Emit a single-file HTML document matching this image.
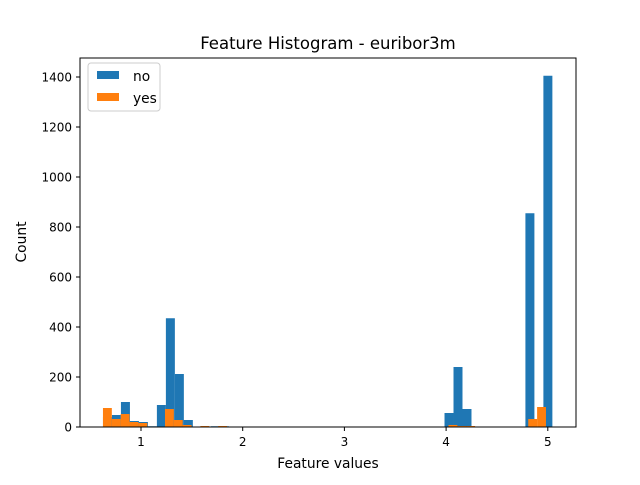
<!DOCTYPE html>
<html><head><meta charset="utf-8"><style>
body{margin:0;background:#fff;}
svg text{font-family:"DejaVu Sans","Liberation Sans",sans-serif;fill:#000;}
</style></head><body>
<svg id="chart" width="640" height="480">
<rect width="640" height="480" fill="#fff"/>
<text x="328" y="49" font-size="16.5" text-anchor="middle">Feature Histogram - euribor3m</text>
<text x="328" y="468" font-size="13.8" text-anchor="middle">Feature values</text>
<text x="26" y="242" font-size="13.8" text-anchor="middle" transform="rotate(-90 26 242)">Count</text>
<g id="bars"></g>
<rect x="80" y="58" width="496" height="369" fill="none" stroke="#000" stroke-width="1"/>
<g id="axes"></g>
<g>
<rect x="88" y="63" width="72" height="48" rx="3" fill="#fff" fill-opacity="0.8" stroke="#ccc"/>
<rect x="97" y="71" width="22" height="8" fill="#1f77b4"/>
<text x="133" y="81" font-size="13.8">no</text>
<rect x="97" y="93" width="22" height="8" fill="#ff7f0e"/>
<text x="133" y="103" font-size="13.8">yes</text>
</g>
</svg>
<script>
const noMin = 0.626, noMax = 5.045;
const yesMin = 0.626, yesMax = 4.982;
const noCounts = [40,48,100,24,20,3,88,435,212,28,0,0,3,3,0,0,0,0,0,0,0,0,0,0,0,0,0,0,0,0,0,0,0,0,0,0,0,0,56,240,72,0,0,0,0,0,0,855,0,1405];
const yesCounts = [76,32,52,20,16,0,0,72,28,8,0,4,0,4,0,0,0,0,0,0,0,0,0,0,0,0,0,0,0,0,0,0,0,0,0,0,0,0,0,8,4,4,0,0,0,0,0,0,32,80];
const xTicks = [1,2,3,4,5];
const yTicks = [0,200,400,600,800,1000,1200,1400];
const NS="http://www.w3.org/2000/svg";
const xs = v => 141 + (v-1)*101.7;
const ys = v => 427 - v*0.25;
const bars = document.getElementById('bars');
function drawHist(counts, mn, mx, color, name){
  const w = (mx-mn)/counts.length;
  counts.forEach((c,i)=>{
    if(c<=0) return;
    const r = document.createElementNS(NS,'rect');
    const x0 = xs(mn+i*w), x1 = xs(mn+(i+1)*w);
    r.setAttribute('x',x0); r.setAttribute('width',x1-x0);
    r.setAttribute('y',ys(c)); r.setAttribute('height',427-ys(c));
    r.setAttribute('fill',color);
    
    
    bars.appendChild(r);
  });
}
drawHist(noCounts,noMin,noMax,'#1f77b4','no');
drawHist(yesCounts,yesMin,yesMax,'#ff7f0e','yes');
const axes = document.getElementById('axes');
xTicks.forEach(t=>{
  const l=document.createElementNS(NS,'line');
  l.setAttribute('x1',xs(t));l.setAttribute('x2',xs(t));l.setAttribute('y1',427);l.setAttribute('y2',431);l.setAttribute('stroke','#000');
  
  
  axes.appendChild(l);
  const tx=document.createElementNS(NS,'text');
  tx.setAttribute('x',xs(t));tx.setAttribute('y',446);tx.setAttribute('font-size','12');tx.setAttribute('text-anchor','middle');
  tx.textContent=t;
  
  
  axes.appendChild(tx);
});
yTicks.forEach(t=>{
  const l=document.createElementNS(NS,'line');
  l.setAttribute('x1',76);l.setAttribute('x2',80);l.setAttribute('y1',ys(t));l.setAttribute('y2',ys(t));l.setAttribute('stroke','#000');
  
  
  axes.appendChild(l);
  const tx=document.createElementNS(NS,'text');
  tx.setAttribute('x',72);tx.setAttribute('y',ys(t)+4.5);tx.setAttribute('font-size','12');tx.setAttribute('text-anchor','end');
  tx.textContent=t;
  
  
  axes.appendChild(tx);
});
</script>
</body></html>
